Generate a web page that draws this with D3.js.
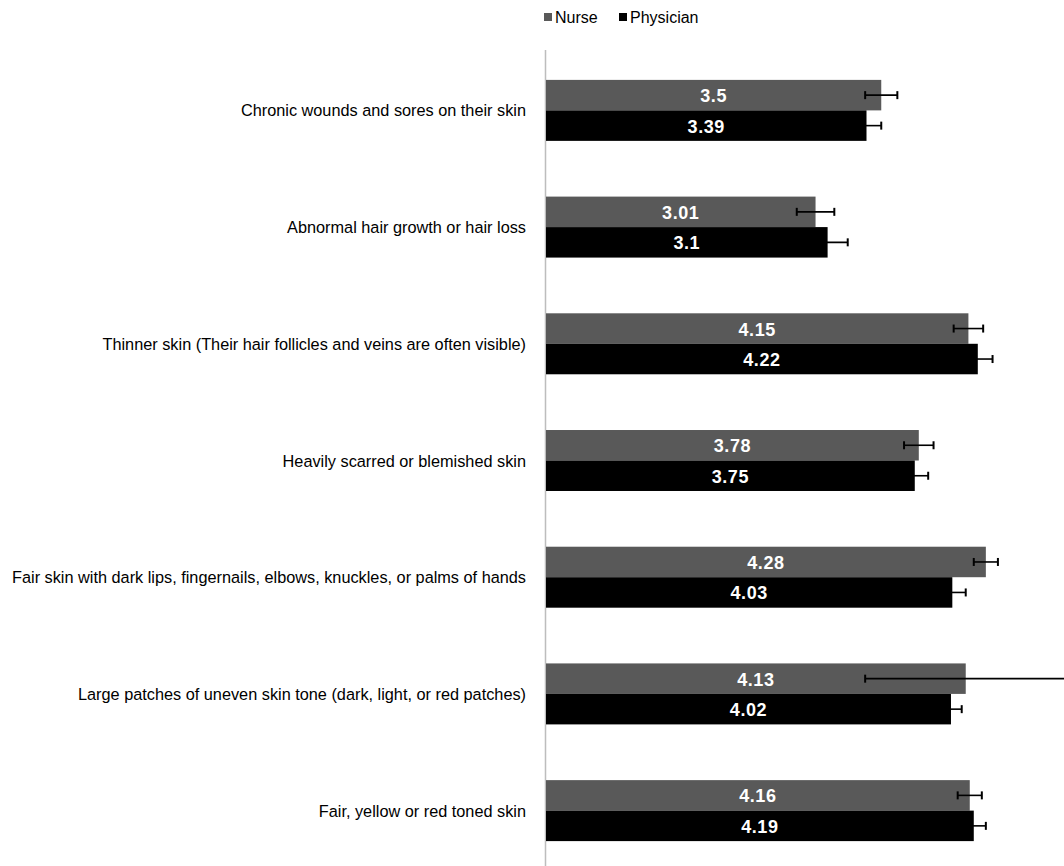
<!DOCTYPE html>
<html>
<head>
<meta charset="utf-8">
<script src="https://cdn.jsdelivr.net/npm/d3@7/dist/d3.min.js"></script>
<style>
  html, body { margin: 0; padding: 0; background: #fff; }
  svg { display: block; font-family: "Liberation Sans", Arial, sans-serif; }
</style>
</head>
<body>
<svg id="chart" width="1064" height="866"></svg>
<script>
// Skin signs rated by nurses and physicians (mean with error)
const categories = [
  "Chronic wounds and sores on their skin",
  "Abnormal hair growth or hair loss",
  "Thinner skin (Their hair follicles and veins are often visible)",
  "Heavily scarred or blemished skin",
  "Fair skin with dark lips, fingernails, elbows, knuckles, or palms of hands",
  "Large patches of uneven skin tone (dark, light, or red patches)",
  "Fair, yellow or red toned skin"
];
const seriesNames = ["Nurse", "Physician"];
const nurseValues     = [3.5, 3.01, 4.15, 3.78, 4.28, 4.13, 4.16];
const physicianValues = [3.39, 3.1, 4.22, 3.75, 4.03, 4.02, 4.19];
const nurseErrors     = [0.12, 0.14, 0.11, 0.11, 0.09, 0.75, 0.09];
const physicianErrors = [0.11, 0.15, 0.11, 0.10, 0.10, 0.08, 0.09];
const seriesColors = ["#595959", "#000000"];

const series = [
  { name: seriesNames[0], values: nurseValues, errors: nurseErrors, color: seriesColors[0] },
  { name: seriesNames[1], values: physicianValues, errors: physicianErrors, color: seriesColors[1] }
];

const svg = d3.select("#chart");

const x = d3.scaleLinear().domain([1, 5]).range([546, 1082.4]);
const y = d3.scaleBand().domain(categories).range([52, 869])
  .paddingInner(0.4775).paddingOuter(0.239);
const ySub = d3.scaleBand().domain(seriesNames).range([0, y.bandwidth()]);

// Category axis line
svg.append("line")
  .attr("x1", 545.5).attr("x2", 545.5)
  .attr("y1", 50).attr("y2", 866)
  .attr("stroke", "#bdbdbd").attr("stroke-width", 1.5);

// Category labels
svg.append("g").selectAll("text")
  .data(categories).join("text")
  .attr("x", 526)
  .attr("y", d => y(d) + y.bandwidth() / 2)
  .attr("text-anchor", "end")
  .attr("dominant-baseline", "central")
  .attr("font-size", 16.3)
  .attr("fill", "#000")
  .text(d => d);

const groups = svg.append("g").selectAll("g")
  .data(series).join("g");

// Bars
groups.selectAll("rect")
  .data(s => s.values.map((v, i) => ({ s, v, c: categories[i] })))
  .join("rect")
  .attr("x", x(1))
  .attr("y", d => y(d.c) + ySub(d.s.name))
  .attr("width", d => x(d.v) - x(1))
  .attr("height", ySub.bandwidth())
  .attr("fill", d => d.s.color);

// Error bars
const errs = groups.selectAll("g.err")
  .data(s => s.values.map((v, i) => ({ s, v, e: s.errors[i], c: categories[i] })))
  .join("g").attr("class", "err")
  .attr("transform", d => `translate(0,${y(d.c) + ySub(d.s.name) + ySub.bandwidth() / 2})`);
errs.append("line")
  .attr("x1", d => x(d.v - d.e)).attr("x2", d => x(d.v + d.e))
  .attr("stroke", "#000").attr("stroke-width", 1.6);
errs.append("line")
  .attr("x1", d => x(d.v - d.e)).attr("x2", d => x(d.v - d.e))
  .attr("y1", -4).attr("y2", 4)
  .attr("stroke", "#000").attr("stroke-width", 2);
errs.append("line")
  .attr("x1", d => x(d.v + d.e)).attr("x2", d => x(d.v + d.e))
  .attr("y1", -4).attr("y2", 4)
  .attr("stroke", "#000").attr("stroke-width", 2);

// Value labels
groups.selectAll("text.val")
  .data(s => s.values.map((v, i) => ({ s, v, c: categories[i] })))
  .join("text").attr("class", "val")
  .attr("x", d => (x(1) + x(d.v)) / 2)
  .attr("y", d => y(d.c) + ySub(d.s.name) + ySub.bandwidth() / 2 + 1)
  .attr("text-anchor", "middle")
  .attr("dominant-baseline", "central")
  .attr("font-size", 18)
  .attr("letter-spacing", 0.6)
  .attr("font-weight", "bold")
  .attr("fill", "#fff")
  .text(d => d.v);

// Legend
const legendX = [544, 619];
const legend = svg.append("g").selectAll("g")
  .data(series).join("g")
  .attr("transform", (d, i) => `translate(${legendX[i]},17)`);
legend.append("rect")
  .attr("x", 0).attr("y", -4).attr("width", 8).attr("height", 8)
  .attr("fill", d => d.color);
legend.append("text")
  .attr("x", 11).attr("y", 0)
  .attr("dominant-baseline", "central")
  .attr("font-size", 16)
  .attr("fill", "#000")
  .text(d => d.name);
</script>
</body>
</html>
